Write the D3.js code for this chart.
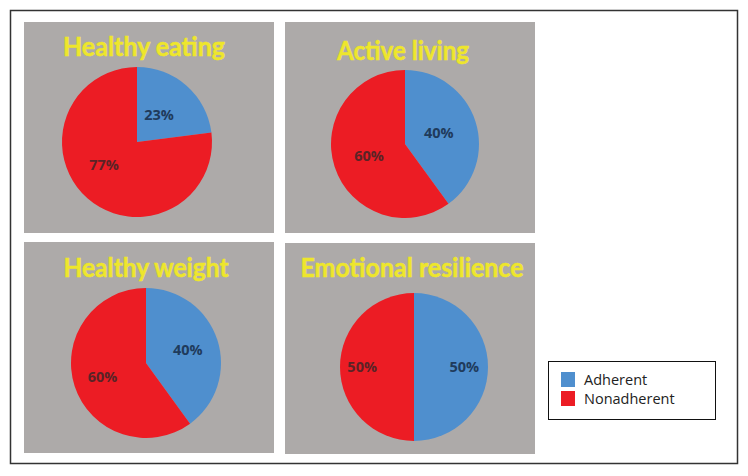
<!DOCTYPE html>
<html><head><meta charset="utf-8">
<script src="https://cdn.jsdelivr.net/npm/d3@7"></script>
<style>body{margin:0;background:#fff}svg{display:block}</style>
</head><body>
<script>
// ---- data ----
const titles = ["Healthy eating", "Active living", "Healthy weight", "Emotional resilience"];
const categories = ["Adherent", "Nonadherent"];
const adherent = [23, 40, 40, 50];
const nonadherent = [77, 60, 60, 50];

// ---- layout / style (separate from data) ----
const W = 748, H = 476;
const colors = {Adherent: "#4F8FCE", Nonadherent: "#EC1C24"};
const labelColors = {Adherent: "#1F3B5C", Nonadherent: "#5A2326"};
const panelX = [24, 285, 24, 285], panelY = [22, 22, 242, 243];
const panelW = 250, panelH = 211;
const pieCx = [113, 120, 122, 129], pieCy = [120, 122, 121, 124], pieR = [75, 74, 75, 74];
const titleCx = [120, 118, 122, 127], titleBase = [34, 38, 35, 34], titleW = [162, 132, 165, 223];
const labelFrac = [[0.47, 0.535], [0.48, 0.51], [0.585, 0.61], [0.68, 0.7]];
const labelAngleShift = [[-0.05, 0.24], [0, 0], [0, 0], [0, 0]]; // radians, best-fit placement offsets

const svg = d3.select("body").append("svg").attr("width", W).attr("height", H);
svg.append("rect").attr("x", 10.5).attr("y", 10.5).attr("width", 727).attr("height", 453)
  .attr("fill", "#fff").attr("stroke", "#333").attr("stroke-width", 1.5);

const pie = d3.pie().sort(null).value(d => d.value);

titles.forEach((t, i) => {
  const g = svg.append("g").attr("transform", `translate(${panelX[i]},${panelY[i]})`);
  g.append("rect").attr("width", panelW).attr("height", panelH).attr("fill", "#ADAAA9");
  g.append("text").attr("x", titleCx[i]).attr("y", titleBase[i]).attr("text-anchor", "middle")
    .attr("font-family", "Lato, 'Open Sans', sans-serif").attr("font-weight", "bold")
    .attr("font-size", 26.5).attr("fill", "#EEE62C").attr("stroke", "#EEE62C").attr("stroke-width", 0.5)
    .attr("textLength", titleW[i]).attr("lengthAdjust", "spacingAndGlyphs").text(t);
  const data = [{key: categories[0], value: adherent[i]}, {key: categories[1], value: nonadherent[i]}];
  const arcs = pie(data);
  const arc = d3.arc().innerRadius(0).outerRadius(pieR[i]);
  const pg = g.append("g").attr("transform", `translate(${pieCx[i]},${pieCy[i]})`);
  pg.selectAll("path").data(arcs).join("path").attr("d", arc).attr("fill", d => colors[d.data.key]);
  pg.selectAll("text").data(arcs).join("text")
    .attr("transform", (d, j) => {
      const rr = pieR[i] * labelFrac[i][j];
      const s = labelAngleShift[i][j];
      const c = d3.arc().innerRadius(rr).outerRadius(rr)
        .centroid({startAngle: d.startAngle + s, endAngle: d.endAngle + s});
      return `translate(${c[0]},${c[1]})`;
    })
    .attr("text-anchor", "middle").attr("dy", "0.35em")
    .attr("font-family", "'Open Sans', sans-serif").attr("font-weight", "bold").attr("font-size", 14.5)
    .attr("fill", d => labelColors[d.data.key])
    .text(d => d.data.value + "%");
});

// legend
const lg = svg.append("g").attr("transform", "translate(548,361)");
lg.append("rect").attr("x", 0.5).attr("y", 0.5).attr("width", 167).attr("height", 58)
  .attr("fill", "#fff").attr("stroke", "#111").attr("stroke-width", 1);
categories.forEach((c, k) => {
  lg.append("rect").attr("x", 13).attr("y", 11 + k * 19).attr("width", 14).attr("height", 15).attr("fill", colors[c]);
  lg.append("text").attr("x", 36).attr("y", 24 + k * 19)
    .attr("font-family", "'Open Sans', sans-serif").attr("font-size", 14.5).attr("fill", "#222").text(c);
});
</script>
</body></html>
